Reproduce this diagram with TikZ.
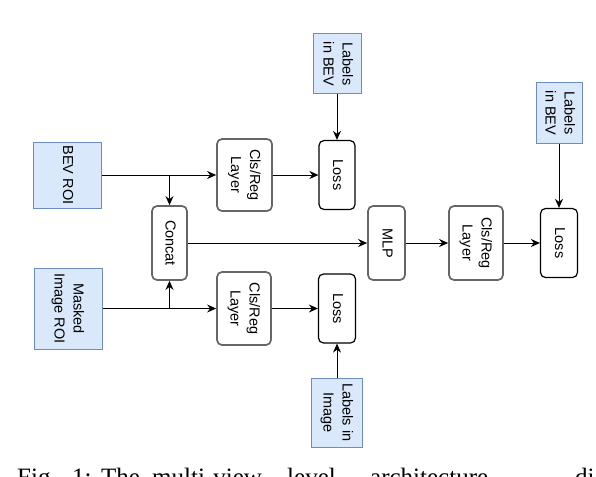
\documentclass[tikz,border=0pt]{standalone}
\usepackage{fontspec}
\setmainfont{Liberation Sans}
\newfontfamily\capfont{Liberation Serif}
\usetikzlibrary{arrows.meta}
\definecolor{bluefill}{HTML}{DAE8FC}
\definecolor{blueline}{HTML}{6C8EBF}
\definecolor{greyline}{HTML}{666666}
\newcommand{\rtxt}[1]{\rotatebox[origin=c]{-90}{\begin{tabular}{@{}c@{}}#1\end{tabular}}}
\begin{document}
\begin{tikzpicture}[x=1pt,y=-1pt,
  every node/.style={font=\fontsize{14.5}{19}\selectfont, inner sep=0pt},
  inbox/.style={draw=blueline, fill=bluefill, line width=1pt},
  layerbox/.style={draw=greyline, fill=white, rounded corners=5pt, line width=1.7pt},
  lossbox/.style={draw=black, fill=white, rounded corners=5pt, line width=1.2pt},
  captxt/.style={anchor=base west, font=\capfont\fontsize{25}{30}\selectfont},
  arr/.style={-{Stealth[length=9pt,width=8pt]}, line width=1pt}]
\clip (0,0) rectangle (596,476);
\fill[white] (0,0) rectangle (596,476);

% input boxes
\node[inbox, minimum width=68pt, minimum height=66pt] (bev) at (67,175) {\rtxt{BEV ROI}};
\node[inbox, minimum width=68pt, minimum height=81pt] (masked) at (68,308.5) {\rtxt{Masked\\Image ROI}};
\node[inbox, minimum width=48pt, minimum height=60pt] (lab1) at (337,64) {\rtxt{Labels\\in BEV}};
\node[inbox, minimum width=51pt, minimum height=69pt] (lab2) at (337,412.5) {\rtxt{Labels in\\Image}};
\node[inbox, minimum width=46pt, minimum height=60pt] (lab3) at (559,113) {\rtxt{Labels\\in BEV}};

% processing boxes
\node[layerbox, minimum width=35pt, minimum height=74pt] (concat) at (169.5,243) {\rtxt{Concat}};
\node[layerbox, minimum width=55pt, minimum height=72pt] (cls1) at (244.5,175) {\rtxt{Cls/Reg\\Layer}};
\node[layerbox, minimum width=54pt, minimum height=73pt] (cls2) at (244,308.5) {\rtxt{Cls/Reg\\Layer}};
\node[layerbox, minimum width=37pt, minimum height=74pt] (mlp) at (386.5,243) {\rtxt{MLP}};
\node[layerbox, minimum width=54pt, minimum height=74pt] (cls3) at (476,243) {\rtxt{Cls/Reg\\Layer}};

% loss boxes
\node[lossbox, minimum width=36pt, minimum height=69pt] (loss1) at (337,175) {\rtxt{Loss}};
\node[lossbox, minimum width=37pt, minimum height=69pt] (loss2) at (337,308.5) {\rtxt{Loss}};
\node[lossbox, minimum width=37pt, minimum height=69pt] (loss3) at (559,243) {\rtxt{Loss}};

% junctions
\coordinate (j1) at (concat |- bev);
\coordinate (j2) at (concat |- masked);

% connectors
\draw[arr] (bev) -- (cls1);
\draw[arr] (j1) -- (concat);
\draw[arr] (masked) -- (cls2);
\draw[arr] (j2) -- (concat);
\draw[arr] (cls1) -- (loss1);
\draw[arr] (cls2) -- (loss2);
\draw[arr] (lab1) -- (loss1);
\draw[arr] (lab2) -- (loss2);
\draw[arr] (concat) -- (mlp);
\draw[arr] (mlp) -- (cls3);
\draw[arr] (cls3) -- (loss3);
\draw[arr] (lab3) -- (loss3);

% caption (cut off at the bottom edge, as in the reference)
\node[captxt] (c1) at (17,485) {Fig.};
\node[captxt] (c2) at (72,485) {1:};
\node[captxt] (c3) at (101,485) {The};
\node[captxt] (c4) at (152,485) {multi-view};
\node[captxt] (c5) at (287,485) {level};
\node[captxt] (c6) at (370,485) {architecture};
\node[captxt] (c7) at (575,485) {diagram};
\end{tikzpicture}
\end{document}
